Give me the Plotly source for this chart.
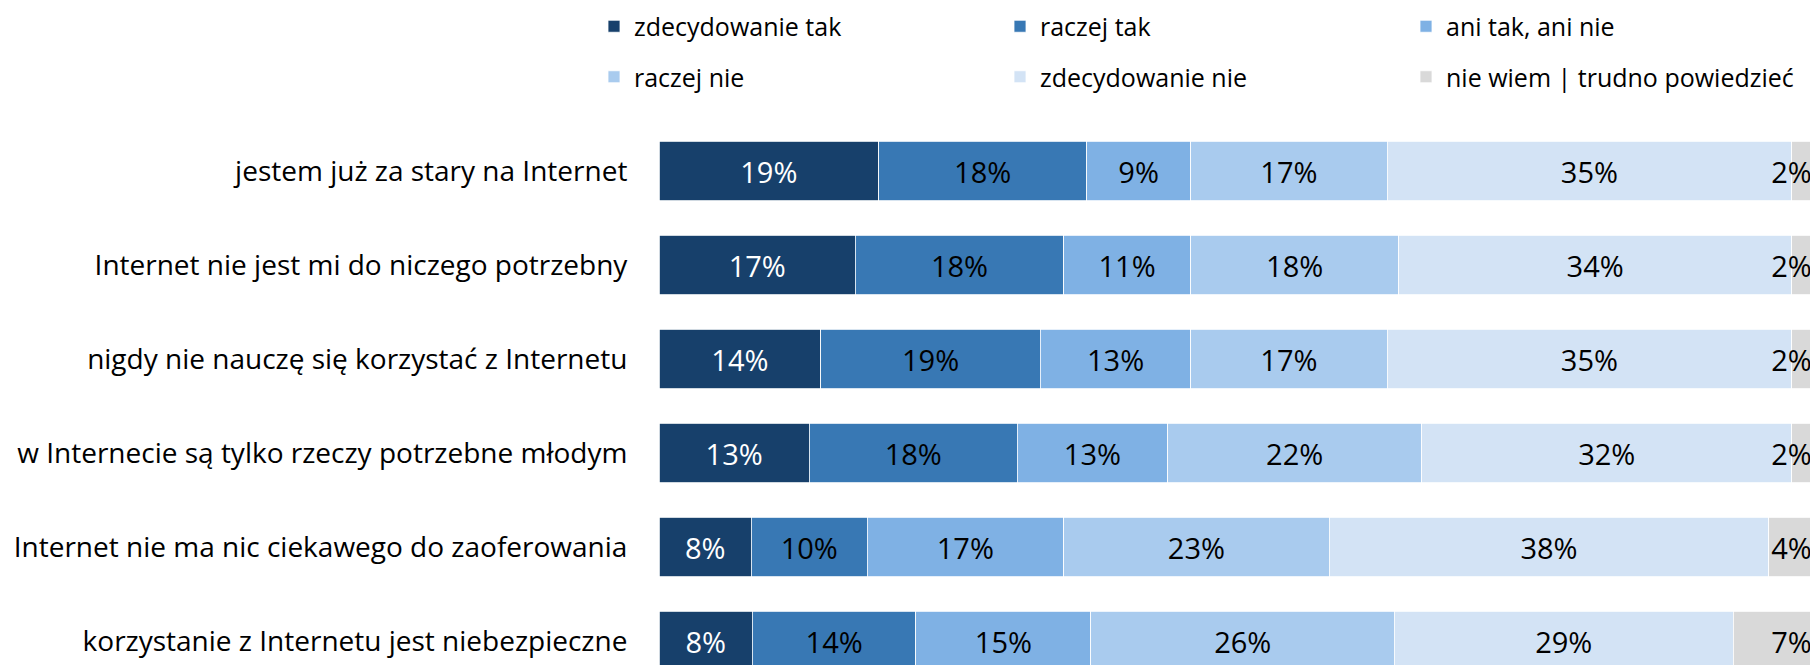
import plotly.graph_objects as go

categories = [
    "jestem już za stary na Internet",
    "Internet nie jest mi do niczego potrzebny",
    "nigdy nie nauczę się korzystać z Internetu",
    "w Internecie są tylko rzeczy potrzebne młodym",
    "Internet nie ma nic ciekawego do zaoferowania",
    "korzystanie z Internetu jest niebezpieczne",
]
series_names = ["zdecydowanie tak", "raczej tak", "ani tak, ani nie",
                "raczej nie", "zdecydowanie nie", "nie wiem | trudno powiedzieć"]
zdecydowanie_tak = [19, 17, 14, 13, 8, 8]
raczej_tak = [18, 18, 19, 18, 10, 14]
ani_tak_ani_nie = [9, 11, 13, 13, 17, 15]
raczej_nie = [17, 18, 17, 22, 23, 26]
zdecydowanie_nie = [35, 34, 35, 32, 38, 29]
nie_wiem = [2, 2, 2, 2, 4, 7]

series_values = [zdecydowanie_tak, raczej_tak, ani_tak_ani_nie,
                 raczej_nie, zdecydowanie_nie, nie_wiem]
colors = ["#17406B", "#3878B4", "#7FB1E4", "#A9CBEE", "#D3E3F5", "#D9D9D9"]
text_colors = ["white", "black", "black", "black", "black", "black"]

FONT = "Open Sans"

fig = go.Figure()
for i, (name, vals) in enumerate(zip(series_names, series_values)):
    last = i == len(series_names) - 1
    fig.add_trace(go.Bar(
        y=categories, x=vals, name=name, orientation="h",
        marker=dict(color=colors[i], line=dict(color="white", width=0.8)),
        text=[f"{v}%" for v in vals],
        textposition="inside",
        insidetextanchor="end" if last else "middle",
        textangle=0,
        textfont=dict(family=FONT, size=29, color=text_colors[i]),
        cliponaxis=False,
        legend="legend" if i < 3 else "legend2",
        hoverinfo="skip",
    ))

# page body has an 8px margin, so the figure is offset by 8px
OFF = 8
W, H = 1818 - OFF, 665 - OFF
ML, MR, MT, MB = 659 - OFF, 3, 124 - OFF, 0
ph = H - MT - MB
pw = W - ML - MR
row = 94.0

def py(p):
    return (H - MB - (p - OFF)) / ph

legend_x = (594 - 659) / pw
leg_common = dict(orientation="h", xanchor="left", yanchor="middle",
                  x=legend_x, entrywidth=361, entrywidthmode="pixels",
                  font=dict(family=FONT, size=25, color="black"),
                  bgcolor="rgba(0,0,0,0)", traceorder="normal")

fig.update_layout(
    width=W, height=H,
    margin=dict(l=ML, r=MR, t=MT, b=MB, pad=0, autoexpand=False),
    barmode="stack", barnorm="percent", bargap=0.368,
    plot_bgcolor="white", paper_bgcolor="white",
    font=dict(family=FONT, color="black"),
    uniformtext=dict(minsize=29, mode="show"),
    showlegend=True,
    legend=dict(y=py(26.5), **leg_common),
    legend2=dict(y=py(77), **leg_common),
    xaxis=dict(range=[0, 100.02], visible=False, fixedrange=True),
    yaxis=dict(
        categoryorder="array", categoryarray=categories,
        range=[-0.5 + ph / row, -0.5],
        showgrid=False, zeroline=False, showline=False,
        ticks="outside", ticklen=25, tickcolor="rgba(0,0,0,0)",
        tickfont=dict(family=FONT, size=28, color="black"),
    ),
)

fig.write_html("out.html")
